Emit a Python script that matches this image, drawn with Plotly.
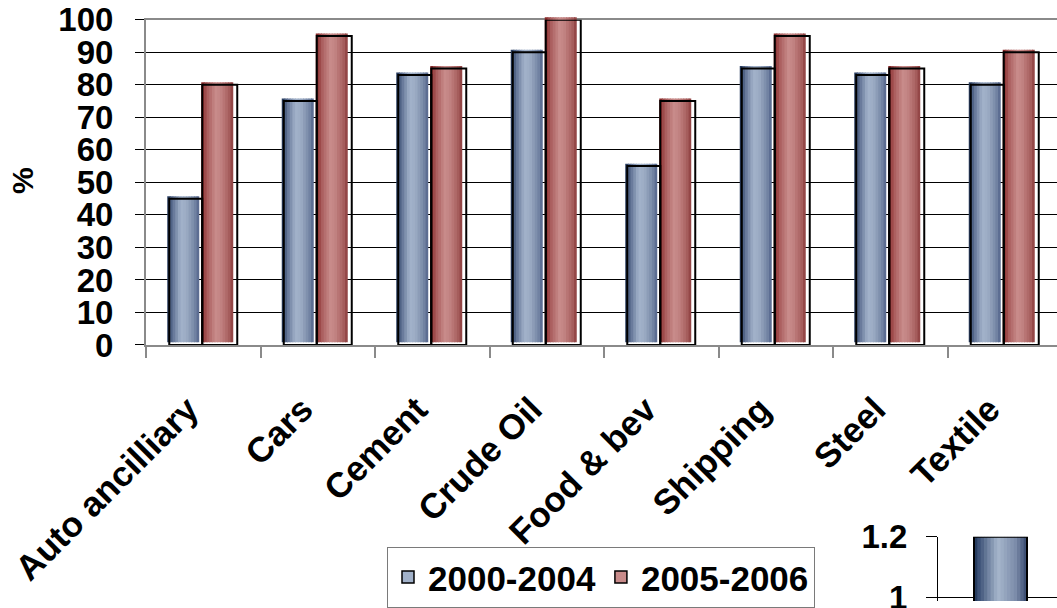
import numpy as np
import plotly.graph_objects as go

# ---- data -------------------------------------------------------------
categories = ["Auto ancilliary", "Cars", "Cement", "Crude Oil",
              "Food & bev", "Shipping", "Steel", "Textile"]
share_2000_2004 = [45, 75, 83, 90, 55, 85, 83, 80]
share_2005_2006 = [80, 95, 85, 100, 75, 95, 85, 90]
series_names = ["2000-2004", "2005-2006"]
y_tickvals = [0, 10, 20, 30, 40, 50, 60, 70, 80, 90, 100]

# small companion chart (partly visible, lower right)
inset_x = [0]
inset_values = [1.2]
inset_tickvals = [1.0, 1.2]
inset_ticktext = ["1", "1.2"]

# ---- page geometry (pixels) --------------------------------------------
W, H = 1057, 608
PLOT_LEFT, PLOT_TOP, PLOT_BOTTOM = 146, 20, 349
CAT_PX = 114.5                      # width of one category slot
PX_PER_UNIT = (PLOT_BOTTOM - PLOT_TOP) / 100.0
FILL_LIFT = 2.5                     # coloured body sits a little above its frame

FONT = "Liberation Sans, Arial, sans-serif"
GRID = "#000000"
AXIS = "#8a8a8a"

BLUE_STOPS = [(0.00, "#0f2442"), (0.07, "#3c4f74"), (0.16, "#5d6f92"),
              (0.42, "#a2b2ca"), (0.60, "#9cacc4"), (0.86, "#7586a5"),
              (1.00, "#52628a")]
RED_STOPS = [(0.00, "#7a1a1a"), (0.07, "#8e3434"), (0.16, "#a65858"),
             (0.45, "#c88b8a"), (0.60, "#c38483"), (0.86, "#a86160"),
             (1.00, "#8c3c3c")]


def hex_rgb(h):
    h = h.lstrip("#")
    return np.array([int(h[i:i + 2], 16) for i in (0, 2, 4)], dtype=float)


def ramp(stops, t):
    pos = [p for p, _ in stops]
    cols = np.array([hex_rgb(c) for _, c in stops])
    rgb = [np.interp(t, pos, cols[:, k]) for k in range(3)]
    return "rgb(%d,%d,%d)" % tuple(int(round(v)) for v in rgb)


def shaded_bars(x, y, xaxis, yaxis, offset, width, stops, n=12):
    """Horizontal colour ramp built from thin overlaid bar slices."""
    out = []
    sw = width / n
    for i in range(n):
        t = (i + 0.5) / n
        extra = sw * 0.35 if i < n - 1 else 0.0
        out.append(go.Bar(
            x=x, y=y, xaxis=xaxis, yaxis=yaxis,
            offset=offset + i * sw, width=sw + extra,
            marker=dict(color=ramp(stops, t), line=dict(width=0)),
            showlegend=False, hoverinfo="skip"))
    return out


def frame_bars(x, y, xaxis, yaxis, offset, width, lw=2):
    return go.Bar(
        x=x, y=y, xaxis=xaxis, yaxis=yaxis, offset=offset, width=width,
        marker=dict(color="rgba(0,0,0,0)", line=dict(color="black", width=lw)),
        showlegend=False, hoverinfo="skip")


fig = go.Figure()

# legend entries
for name, stops in zip(series_names, (BLUE_STOPS, RED_STOPS)):
    fig.add_trace(go.Bar(x=[None], y=[None], name=name, xaxis="x", yaxis="y",
                         marker=dict(color=ramp(stops, 0.45),
                                     line=dict(color="black", width=1.5))))

# coloured bodies (slightly left of / above the outlines)
blue_fill_off, red_fill_off, fill_w = -36 / CAT_PX, -2 / CAT_PX, 32 / CAT_PX
for tr in shaded_bars(categories, share_2000_2004, "x", "y2",
                      blue_fill_off, fill_w, BLUE_STOPS):
    fig.add_trace(tr)
for tr in shaded_bars(categories, share_2005_2006, "x", "y2",
                      red_fill_off, fill_w, RED_STOPS):
    fig.add_trace(tr)

# black outlines at the true values
fig.add_trace(frame_bars(categories, share_2000_2004, "x", "y3",
                         -34 / CAT_PX, 33 / CAT_PX))
fig.add_trace(frame_bars(categories, share_2005_2006, "x", "y3",
                         -1 / CAT_PX, 35 / CAT_PX))

# companion chart
INSET_LEFT, INSET_TOP = 938, 543
INSET_SLOT = 125.0
INSET_PX_PER_UNIT = 305.0
inset_bar_w = 53 / INSET_SLOT
for tr in shaded_bars(inset_x, inset_values, "x2", "y4",
                      -inset_bar_w / 2, inset_bar_w,
                      [(0.0, "#1a3052"), (0.1, "#3e5378"), (0.45, "#a6b6cc"),
                       (0.8, "#7a8aa8"), (1.0, "#34466c")], n=16):
    fig.add_trace(tr)
fig.add_trace(frame_bars(inset_x, inset_values, "x2", "y4",
                         -inset_bar_w / 2, inset_bar_w, lw=2))


def py(px):
    return (H - px) / H


bold_font = dict(family=FONT, size=33, color="black", weight="bold")
cat_font = dict(family=FONT, size=35, color="black", weight="bold")

fig.update_layout(
    width=W, height=H,
    margin=dict(l=0, r=0, t=0, b=0, pad=0),
    paper_bgcolor="white", plot_bgcolor="rgba(0,0,0,0)",
    barmode="overlay",
    showlegend=True,
    legend=dict(orientation="h", x=387 / W, y=py(553), xanchor="left",
                yanchor="top", bgcolor="white", bordercolor="#7a7a7a",
                borderwidth=1,
                font=dict(family=FONT, size=35, color="black", weight="bold")),
    xaxis=dict(domain=[PLOT_LEFT / W, 1], type="category", automargin=False,
               categoryorder="array", categoryarray=categories,
               range=[-0.5, -0.5 + (W - PLOT_LEFT) / CAT_PX],
               anchor="y", tickson="boundaries", ticks="outside",
               ticklen=11, tickwidth=2, tickcolor=AXIS,
               showline=True, linecolor=AXIS, linewidth=2, mirror=True,
               showgrid=False, tickangle=-45, tickfont=cat_font,
               ticklabelstandoff=28, ticklabelshift=-15),
    yaxis=dict(domain=[py(PLOT_BOTTOM), py(PLOT_TOP)], range=[0, 100],
               automargin=False,
               anchor="x", tickvals=y_tickvals, ticks="outside", ticklen=9,
               tickwidth=1, tickcolor=GRID, showline=True, linecolor=AXIS,
               linewidth=2, showgrid=True, gridcolor=GRID, gridwidth=1,
               zeroline=False, tickfont=bold_font, ticklabelstandoff=15),
    yaxis2=dict(domain=[py(PLOT_BOTTOM - FILL_LIFT), py(10)],
                range=[0, (PLOT_BOTTOM - FILL_LIFT - 10) / PX_PER_UNIT],
                anchor="x", visible=False, showgrid=False, automargin=False),
    yaxis3=dict(domain=[py(PLOT_BOTTOM), py(PLOT_TOP)], range=[0, 100],
                anchor="x", visible=False, showgrid=False, automargin=False),
    xaxis2=dict(domain=[INSET_LEFT / W, 1], anchor="y4", automargin=False,
                range=[-0.5, -0.5 + (W - INSET_LEFT) / INSET_SLOT],
                showgrid=False, showticklabels=False, ticks="",
                zeroline=False, showline=False),
    yaxis4=dict(domain=[0, py(INSET_TOP)], anchor="x2", automargin=False,
                range=[1.2 - (H - INSET_TOP) / INSET_PX_PER_UNIT, 1.2],
                tickvals=inset_tickvals, ticktext=inset_ticktext,
                ticks="outside", ticklen=11, tickcolor="black",
                showline=True, linecolor="black", linewidth=1,
                showgrid=True, gridcolor="black", gridwidth=1,
                zeroline=False, tickfont=bold_font, ticklabelstandoff=12,
                ticklabeloverflow="allow"),
    annotations=[dict(text="%", x=23 / W, y=py(183), xref="paper",
                      yref="paper", xanchor="center", yanchor="middle",
                      showarrow=False, textangle=-90,
                      font=dict(family=FONT, size=30, color="black",
                                weight="bold"))],
)

fig.write_html("out.html")
